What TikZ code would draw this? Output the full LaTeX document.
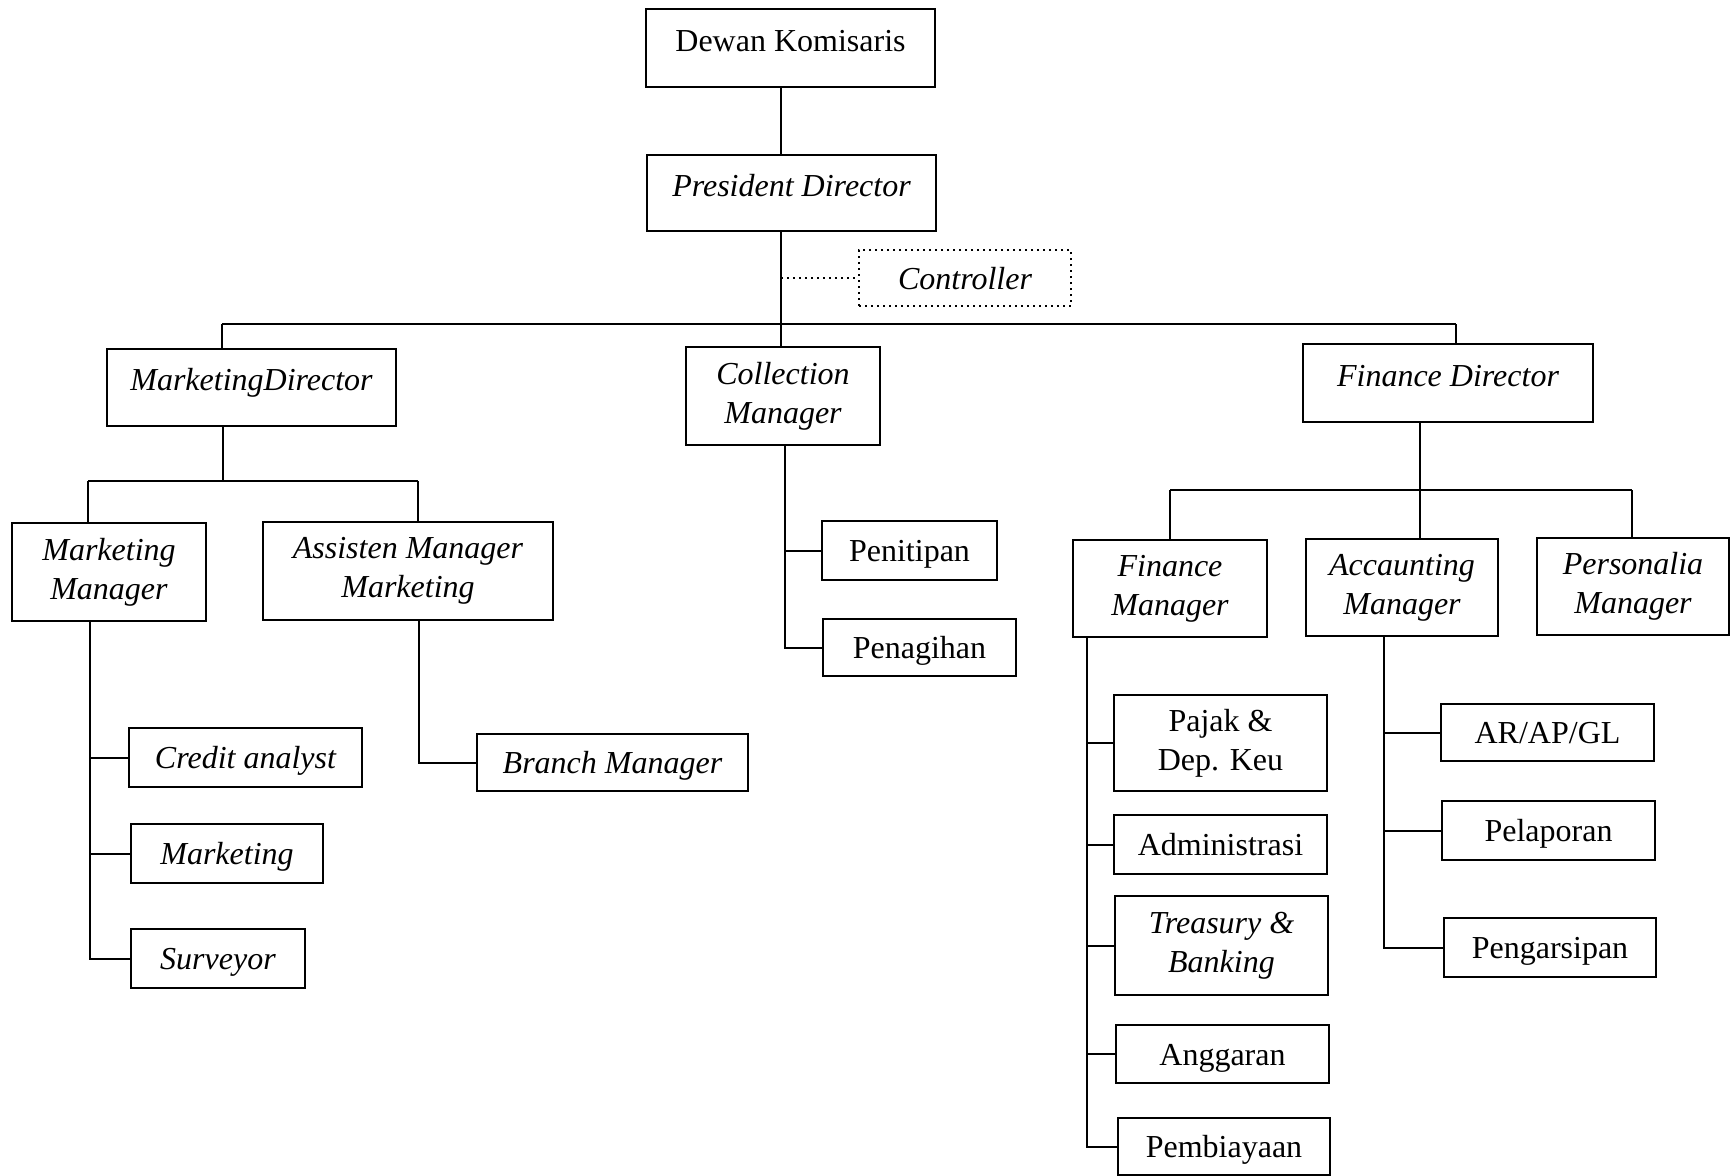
\documentclass[tikz,border=0pt]{standalone}
\usepackage{fontspec}
\setmainfont{Liberation Serif}
\usepackage{tikz}

\begin{document}
\begin{tikzpicture}[x=0.5pt, y=-0.5pt,
		box_style/.style={draw=black,line width=1pt,inner sep=0pt,align=center,font=\fontsize{16}{19.5}\selectfont},
		it_style/.style={box_style,font=\fontsize{16}{19.5}\selectfont\itshape},
		top_text/.style={text height=10pt,text depth=7pt},
		mid_text/.style={text height=11pt,text depth=0pt},
		edge_style/.style={draw=black,line width=1pt}]
		
		\useasboundingbox (0,0) rectangle (1735,1175);
		
		% top
		\node[box_style,top_text,minimum width=144.5pt,minimum height=39pt] (dk) at (790.5,48) {Dewan Komisaris};
		\node[it_style,top_text,minimum width=144.5pt,minimum height=38pt] (pd) at (791.5,193) {President Director};
		\node[it_style,mid_text,minimum width=106pt,minimum height=28pt,dotted] (ctrl) at (965,278) {Controller};
		
		% directors
		\node[it_style,top_text,minimum width=144.5pt,minimum height=38.5pt] (mkd) at (251.5,387.5) {MarketingDirector};
		\node[it_style,minimum width=97pt,minimum height=49pt] (colm) at (783,396) {Collection\\Manager};
		\node[it_style,top_text,minimum width=145pt,minimum height=39pt] (fid) at (1448,383) {Finance Director};
		
		% marketing
		\node[it_style,minimum width=97pt,minimum height=49pt] (mm) at (109,572) {Marketing\\Manager};
		\node[it_style,minimum width=145pt,minimum height=49pt] (amm) at (408,571) {Assisten Manager\\Marketing};
		\node[it_style,mid_text,minimum width=116.5pt,minimum height=29.5pt] (ca) at (245.5,757.5) {Credit analyst};
		\node[it_style,mid_text,minimum width=96pt,minimum height=29.5pt] (mk) at (227,853.5) {Marketing};
		\node[it_style,mid_text,minimum width=87pt,minimum height=29.5pt] (sv) at (218,958.5) {Surveyor};
		\node[it_style,mid_text,minimum width=135.5pt,minimum height=28.5pt] (bm) at (612.5,762.5) {Branch Manager};
		
		% collection
		\node[box_style,mid_text,minimum width=87.5pt,minimum height=29.5pt] (pen) at (909.5,550.5) {Penitipan};
		\node[box_style,mid_text,minimum width=96.5pt,minimum height=28.5pt] (pgh) at (919.5,647.5) {Penagihan};
		
		% finance
		\node[it_style,minimum width=97pt,minimum height=48.5pt] (fm) at (1170,588.5) {Finance\\Manager};
		\node[it_style,minimum width=96pt,minimum height=48.5pt] (am) at (1402,587.5) {Accaunting\\Manager};
		\node[it_style,minimum width=96pt,minimum height=48.5pt] (pm) at (1633,586.5) {Personalia\\Manager};
		\node[box_style,minimum width=106.5pt,minimum height=48pt] (pj) at (1220.5,743) {Pajak \&\\Dep. Keu};
		\node[box_style,mid_text,minimum width=106.5pt,minimum height=29.5pt] (adm) at (1220.5,844.5) {Administrasi};
		\node[it_style,minimum width=106.5pt,minimum height=49.5pt] (tb) at (1221.5,945.5) {Treasury \&\\Banking};
		\node[box_style,mid_text,minimum width=106.5pt,minimum height=29pt] (ang) at (1222.5,1054) {Anggaran};
		\node[box_style,mid_text,minimum width=106pt,minimum height=28.5pt] (pby) at (1224,1146.5) {Pembiayaan};
		\node[box_style,mid_text,minimum width=106.5pt,minimum height=28.5pt] (arap) at (1547.5,732.5) {AR/AP/GL};
		\node[box_style,mid_text,minimum width=106.5pt,minimum height=29.5pt] (pel) at (1548.5,830.5) {Pelaporan};
		\node[box_style,mid_text,minimum width=106pt,minimum height=29.5pt] (pgs) at (1550,947.5) {Pengarsipan};
		
		% main trunk and bus
		\coordinate (bus_l) at (222,324);
		\coordinate (bus_m) at (781,324);
		\coordinate (bus_r) at (1456,324);
		\draw[edge_style] (dk.south -| bus_m) -- (pd.north -| bus_m);
		\draw[edge_style] (pd.south -| bus_m) -- (bus_m);
		\draw[edge_style] (bus_l) -- (bus_r);
		\draw[edge_style] (bus_l) -- (bus_l |- mkd.north);
		\draw[edge_style] (bus_m) -- (bus_m |- colm.north);
		\draw[edge_style] (bus_r) -- (bus_r |- fid.north);
		\draw[edge_style,dotted] (ctrl.west -| bus_m) -- (ctrl.west);
		
		% marketing lines
		\coordinate (mk_bus) at (223,481);
		\coordinate (mk_l) at (88,481);
		\coordinate (mk_r) at (418,481);
		\draw[edge_style] (mkd.south -| mk_bus) -- (mk_bus);
		\draw[edge_style] (mk_l) -- (mk_r);
		\draw[edge_style] (mk_l) -- (mk_l |- mm.north);
		\draw[edge_style] (mk_r) -- (mk_r |- amm.north);
		\coordinate (mm_v) at (90,0);
		\draw[edge_style] (mm.south -| mm_v) |- (ca.west);
		\draw[edge_style] (mm.south -| mm_v) |- (mk.west);
		\draw[edge_style] (mm.south -| mm_v) |- (sv.west);
		\coordinate (amm_v) at (419,0);
		\draw[edge_style] (amm.south -| amm_v) |- (bm.west);
		
		% collection lines
		\coordinate (col_v) at (785,0);
		\draw[edge_style] (colm.south -| col_v) |- (pen.west);
		\draw[edge_style] (colm.south -| col_v) |- (pgh.west);
		
		% finance lines
		\coordinate (fi_bus) at (1420,490);
		\coordinate (fi_l) at (1170,490);
		\coordinate (fi_r) at (1632,490);
		\draw[edge_style] (fid.south -| fi_bus) -- (fi_bus) -- (fi_bus |- am.north);
		\draw[edge_style] (fi_l) -- (fi_r);
		\draw[edge_style] (fi_l) -- (fi_l |- fm.north);
		\draw[edge_style] (fi_r) -- (fi_r |- pm.north);
		\coordinate (fm_v) at (1087,0);
		\draw[edge_style] (fm.south -| fm_v) |- (pj.west);
		\draw[edge_style] (fm.south -| fm_v) |- (adm.west);
		\draw[edge_style] (fm.south -| fm_v) |- (tb.west);
		\draw[edge_style] (fm.south -| fm_v) |- (ang.west);
		\draw[edge_style] (fm.south -| fm_v) |- (pby.west);
		\coordinate (am_v) at (1384,0);
		\draw[edge_style] (am.south -| am_v) |- (arap.west);
		\draw[edge_style] (am.south -| am_v) |- (pel.west);
		\draw[edge_style] (am.south -| am_v) |- (pgs.west);
		
\end{tikzpicture}
\end{document}
